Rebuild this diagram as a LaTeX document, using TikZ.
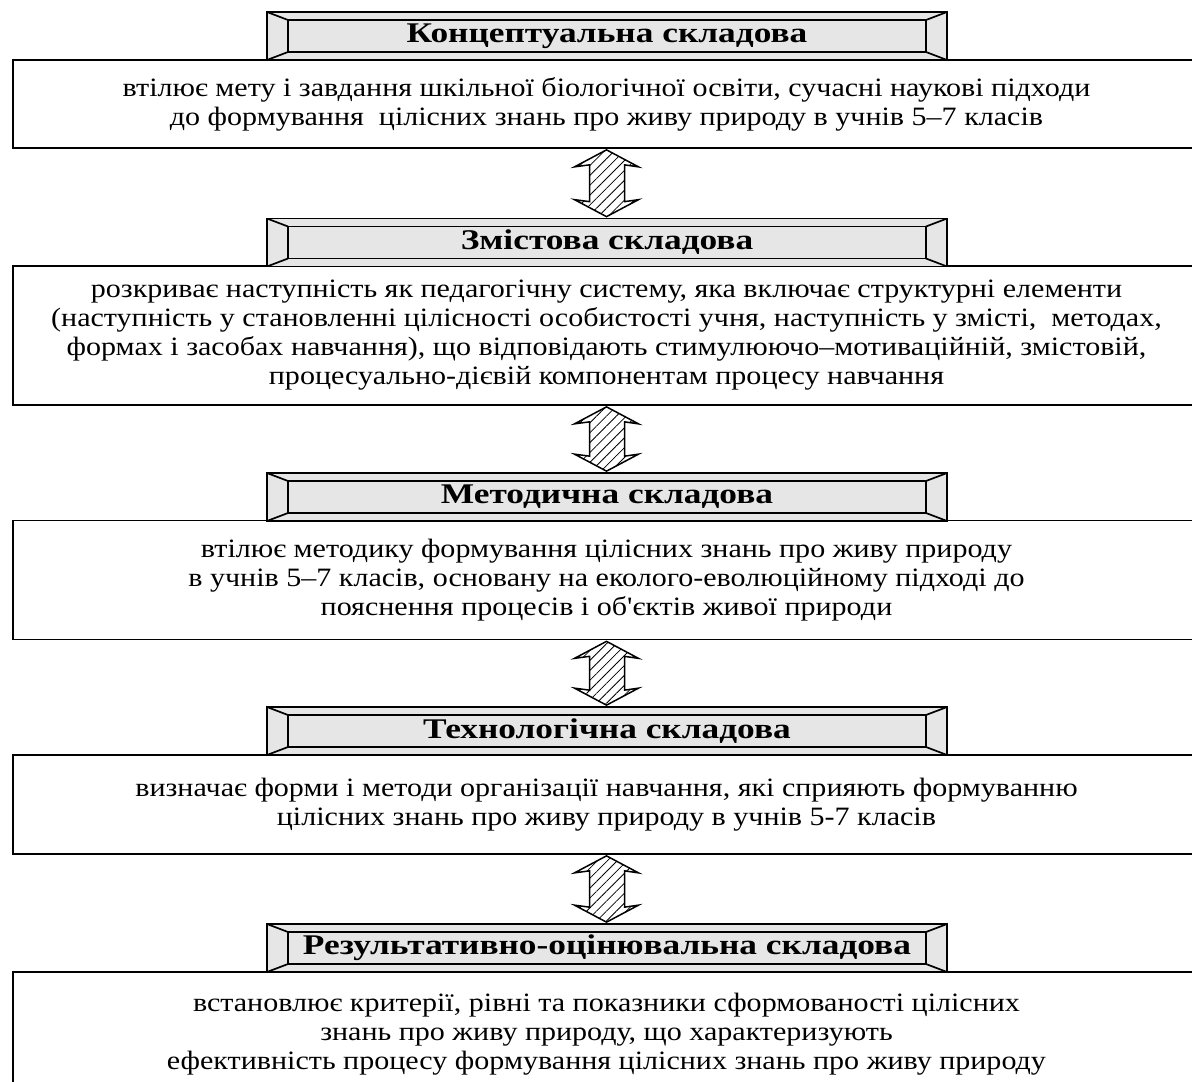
\documentclass[tikz,border=0pt]{standalone}
\usepackage{fontspec}
\setmainfont{Liberation Serif}
\newfontfamily\bodyfont[FakeStretch=1.134]{Liberation Serif}
\newfontfamily\hdrfont[FakeStretch=1.24]{Liberation Serif}
\usetikzlibrary{calc,patterns.meta}
\definecolor{hdrgray}{RGB}{230,230,230}
\tikzset{
  hdr/.style={draw, line width=1.7pt, fill=hdrgray, minimum width=680pt, minimum height=48pt, inner sep=0pt,
    font=\hdrfont\fontsize{28.5}{30}\selectfont\bfseries,
    path picture={
      \coordinate (pa) at (path picture bounding box.north west);
      \coordinate (pb) at (path picture bounding box.south east);
      \coordinate (pc) at (path picture bounding box.north east);
      \coordinate (pd) at (path picture bounding box.south west);
      \draw[line width=1.7pt] ([xshift=21pt,yshift=-8pt]pa) rectangle ([xshift=-21pt,yshift=8pt]pb);
      \draw[line width=1.7pt] (pa) -- ([xshift=21pt,yshift=-8pt]pa);
      \draw[line width=1.7pt] (pc) -- ([xshift=-21pt,yshift=-8pt]pc);
      \draw[line width=1.7pt] (pb) -- ([xshift=-21pt,yshift=8pt]pb);
      \draw[line width=1.7pt] (pd) -- ([xshift=21pt,yshift=8pt]pd);
    }},
  bodybox/.style={draw, line width=1.7pt, fill=white, minimum width=1187pt, inner sep=0pt, align=center,
    font=\bodyfont\fontsize{26.5}{29}\selectfont},
  hatch/.style={draw, line width=1.5pt, line join=miter, fill=white,
    postaction={pattern={Lines[angle=45,distance=7pt,line width=0.8pt]}}}
}
\newcommand\hatcharrow[2]{%
  \draw[hatch] let \p1=(#1.south), \p2=(#2.north) in
    (\x1,\y1-1pt) -- (\x1+32pt,\y1-18pt) -- (\x1+18pt,\y1-16pt) -- (\x1+18pt,\y2+16pt)
    -- (\x1+32pt,\y2+18pt) -- (\x1,\y2+1pt) -- (\x1-32pt,\y2+18pt) -- (\x1-17pt,\y2+16pt)
    -- (\x1-17pt,\y1-16pt) -- (\x1-32pt,\y1-18pt) -- cycle;}
\begin{document}
\begin{tikzpicture}[x=1pt,y=-1pt]
\useasboundingbox (0,0) rectangle (1192,1082);
\clip (0,0) rectangle (1192,1082);
\fill[white] (0,0) rectangle (1192,1082);
% boxes
\node[bodybox, minimum height=88pt] (b1) at (606.5,104) {втілює мету і завдання шкільної біологічної освіти, сучасні наукові підходи\\до формування\ \ цілісних знань про живу природу в учнів 5–7 класів};
\node[bodybox, minimum height=139pt] (b2) at (606.5,335.5) {розкриває наступність як педагогічну систему, яка включає структурні елементи\\(наступність у становленні цілісності особистості учня, наступність у змісті,\ \ методах,\\формах і засобах навчання), що відповідають стимулюючо–мотиваційній, змістовій,\\процесуально-дієвій компонентам процесу навчання};
\node[bodybox, minimum height=119pt] (b3) at (606.5,580) {втілює методику формування цілісних знань про живу природу\\в учнів 5–7 класів, основану на еколого-еволюційному підході до\\пояснення процесів і об'єктів живої природи};
\node[bodybox, minimum height=99pt] (b4) at (606.5,804.5) {визначає форми і методи організації навчання, які сприяють формуванню\\цілісних знань про живу природу в учнів 5-7 класів};
\node[bodybox, minimum height=124pt] (b5) at (606.5,1034) {встановлює критерії, рівні та показники сформованості цілісних\\знань про живу природу, що характеризують\\ефективність процесу формування цілісних знань про живу природу};
% headers
\node[hdr] (h1) at (607,36) {Концептуальна складова};
\node[hdr] (h2) at (607,242.5) {Змістова складова};
\node[hdr] (h3) at (607,497) {Методична складова};
\node[hdr] (h4) at (607,731) {Технологічна складова};
\node[hdr] (h5) at (607,948) {Результативно-оцінювальна складова};
% arrows
\hatcharrow{b1}{h2}
\hatcharrow{b2}{h3}
\hatcharrow{b3}{h4}
\hatcharrow{b4}{h5}
\end{tikzpicture}
\end{document}
